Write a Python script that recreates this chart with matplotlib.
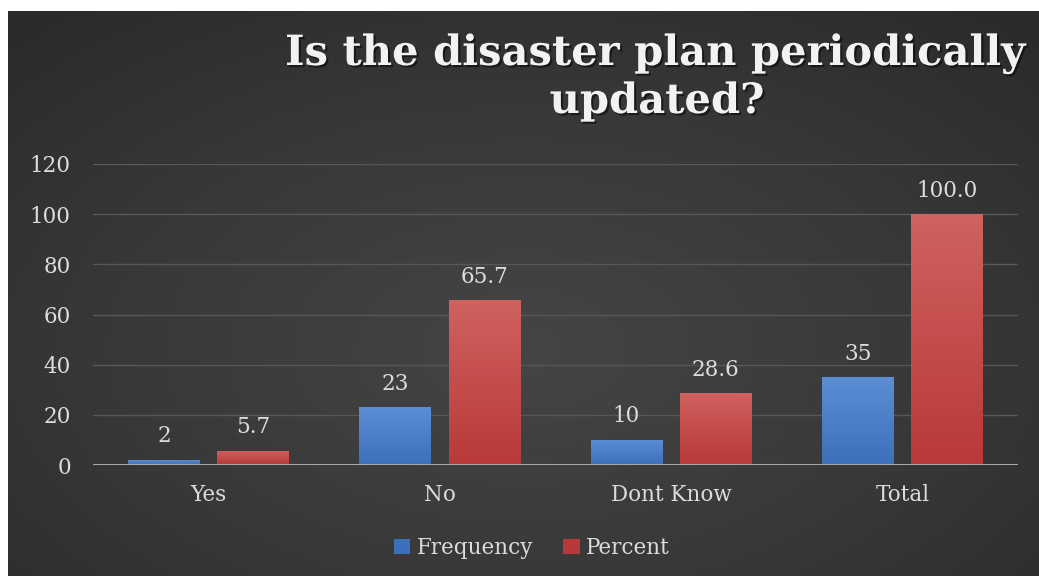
import numpy as np
import matplotlib
matplotlib.use('Agg')
import matplotlib.pyplot as plt
import matplotlib.patheffects as pe
from matplotlib.colors import LinearSegmentedColormap

categories = ['Yes', 'No', 'Dont Know', 'Total']
frequency = [2, 23, 10, 35]
percent = [5.7, 65.7, 28.6, 100.0]
freq_labels = ['2', '23', '10', '35']
pct_labels = ['5.7', '65.7', '28.6', '100.0']
y_ticks = [0, 20, 40, 60, 80, 100, 120]

W, H = 1039, 576
fig = plt.figure(figsize=(W / 100, H / 100), dpi=100)
fig.patch.set_facecolor('white')

# dark radial background of the chart area
bg = fig.add_axes([8 / W, 0, 1 - 8 / W, 1 - 11 / H])
bg.set_axis_off()
yy, xx = np.mgrid[0:1:300j, 0:1:500j]
r = np.sqrt(((xx - 0.5) / 0.75) ** 2 + ((yy - 0.4) / 0.8) ** 2)
r = np.clip(r, 0, 1)
bg_cmap = LinearSegmentedColormap.from_list('bg', ['#454545', '#393939', '#2a2a2a'])
bg.imshow(r, cmap=bg_cmap, aspect='auto', extent=[0, 1, 0, 1], origin='lower')
bg.set_xlim(0, 1)
bg.set_ylim(0, 1)

ax = fig.add_axes([93 / W, 111 / H, 925 / W, 301 / H])
ax.set_facecolor('none')
for s in ax.spines.values():
    s.set_visible(False)

x = np.arange(len(categories))
width = 0.311
off = 0.193

def grad_bars(xs, heights, top, bottom, zo):
    bars = ax.bar(xs, heights, width, color=bottom, zorder=zo, edgecolor='none')
    cmap = LinearSegmentedColormap.from_list('g', [bottom, top])
    grad = np.linspace(0, 1, 256).reshape(-1, 1)
    for b in bars:
        x0, y0 = b.get_x(), b.get_y()
        im = ax.imshow(grad, cmap=cmap, aspect='auto', origin='lower',
                       extent=[x0, x0 + b.get_width(), y0, y0 + b.get_height()],
                       zorder=zo + 0.1)
        im.set_clip_path(b)
    return bars

fb = grad_bars(x - off, frequency, '#5b8ed4', '#3c70ba', 3)
pb = grad_bars(x + off, percent, '#d0625f', '#b8393a', 3)

ax.set_xlim(-0.5, 3.5)
ax.set_ylim(0, 120)
ax.set_yticks(y_ticks)
ax.yaxis.grid(True, color='#575757', lw=1)
ax.set_axisbelow(True)
ax.axhline(0, color='#a8a8a8', lw=2.2, zorder=5)

font = 'DejaVu Serif'
txt = '#dcdcdc'
fs = 15.5
ax.set_xticks(x)
ax.set_xticklabels(categories)
ax.tick_params(axis='both', length=0, colors=txt, labelsize=fs)
ax.tick_params(axis='y', pad=16)
ax.tick_params(axis='x', pad=14)
for lab in ax.get_xticklabels() + ax.get_yticklabels():
    lab.set_family(font)

for xi, v, s in zip(x - off, frequency, freq_labels):
    ax.annotate(s, (xi, v), xytext=(0, 9), textcoords='offset points',
                ha='center', va='bottom', color=txt, fontsize=fs, family=font)
for xi, v, s in zip(x + off, percent, pct_labels):
    ax.annotate(s, (xi, v), xytext=(0, 9), textcoords='offset points',
                ha='center', va='bottom', color=txt, fontsize=fs, family=font)

shadow = [pe.withSimplePatchShadow(offset=(1.5, -1.5), shadow_rgbFace='black', alpha=0.5)]
fig.text(655 / W, 1 - 65 / H, 'Is the disaster plan periodically',
         ha='center', va='baseline', color='#f2f2f2', fontsize=30,
         fontweight='bold', family=font, path_effects=shadow)
fig.text(657 / W, 1 - 113 / H, 'updated?',
         ha='center', va='baseline', color='#f2f2f2', fontsize=30,
         fontweight='bold', family=font, path_effects=shadow)

leg = ax.legend([fb, pb], ['Frequency', 'Percent'], loc='center',
                bbox_to_anchor=(532 / W, 1 - 548 / H), bbox_transform=fig.transFigure,
                ncol=2, frameon=False, handlelength=0.75, handleheight=0.75,
                handletextpad=0.3, columnspacing=1.4,
                prop={'family': font, 'size': fs})
for t in leg.get_texts():
    t.set_color(txt)

fig.savefig('out.png', dpi=100, facecolor=fig.get_facecolor())
